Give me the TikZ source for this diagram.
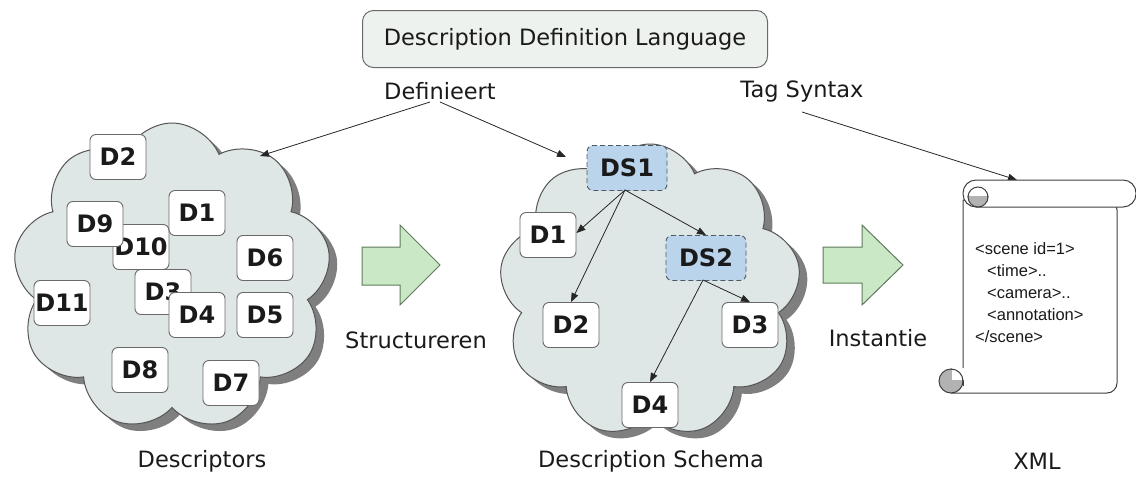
\documentclass[tikz,border=0pt]{standalone}
\usepackage{fontspec}
\setmainfont{DejaVu Sans}
\newfontfamily\xmlfont{Liberation Sans}
\usetikzlibrary{shapes.symbols,arrows.meta}
\definecolor{cloudfill}{HTML}{DEE7E5}
\definecolor{cloudline}{HTML}{555555}
\definecolor{shadowc}{HTML}{7F7F7F}
\definecolor{boxline}{HTML}{6A6A6A}
\definecolor{topfill}{HTML}{EEF2EE}
\definecolor{dsfill}{HTML}{BAD4EC}
\definecolor{dsline}{HTML}{4E5966}
\definecolor{greenfill}{HTML}{CBE8C6}
\definecolor{greenline}{HTML}{5D7A5B}
\definecolor{txt}{HTML}{1A1A1A}
\tikzset{
  cloudbase/.style={cloud, cloud puffs=9, cloud puff arc=135, aspect=1, inner sep=0pt},
  cloudmain/.style={cloudbase, draw=cloudline, line width=1pt, fill=cloudfill},
  cloudshadow/.style={cloudbase, fill=shadowc, draw=none},
  dbox/.style={draw=boxline, line width=0.9pt, fill=white, rounded corners=6pt,
    minimum width=56pt, minimum height=45pt, inner sep=0pt,
    font=\fontsize{24}{28}\selectfont\bfseries, text=txt},
  dsbox/.style={dbox, fill=dsfill, draw=dsline, dashed, dash pattern=on 5pt off 3pt, minimum width=80pt},
  lbl/.style={font=\fontsize{22.5}{26}\selectfont, text=txt, inner sep=0pt},
  conn/.style={draw=black!85, line width=0.8pt, -{Triangle[length=9pt,width=7pt]}},
  bigarrow/.style={draw=greenline, line width=1pt, fill=greenfill, line join=miter},
  scrollline/.style={draw=black!75, line width=1pt},
}
\begin{document}
\begin{tikzpicture}[x=1pt,y=-1pt]
\useasboundingbox (0,0) rectangle (1136,477);
% top box
\node[draw=boxline, line width=1pt, fill=topfill, rounded corners=11pt, minimum width=405pt, minimum height=57pt, lbl] (ddl) at (565,39) {Description Definition Language};
\node[lbl] (def) at (440,91) {Definieert};
\node[lbl] (tag) at (802,91) {Tag Syntax};

% left cloud
\node[cloudshadow, minimum width=318pt, minimum height=308pt, shape border rotate=10] (lcs) at (180,284) {};
\node[cloudmain, minimum width=318pt, minimum height=308pt, shape border rotate=10] (lc) at (172,277) {};
\node[dbox] (a2) at (118,157) {D2};
\node[dbox] (a10) at (141,247) {D10};
\node[dbox] (a9) at (95,224) {D9};
\node[dbox] (a1) at (197,213) {D1};
\node[dbox] (a6) at (265,258) {D6};
\node[dbox] (a11) at (62,303) {D11};
\node[dbox] (a3) at (163,292) {D3};
\node[dbox] (a4) at (197,315) {D4};
\node[dbox] (a5) at (265,315) {D5};
\node[dbox] (a8) at (140,370) {D8};
\node[dbox] (a7) at (231,383) {D7};

% middle cloud
\node[cloudshadow, minimum width=302pt, minimum height=294pt] (mcs) at (658,298) {};
\node[cloudmain, minimum width=302pt, minimum height=294pt] (mc) at (650,291) {};
\node[dsbox] (ds1) at (627,168) {DS1};
\node[dbox] (b1) at (548,235) {D1};
\node[dsbox] (ds2) at (706,258) {DS2};
\node[dbox] (b2) at (571,325) {D2};
\node[dbox] (b3) at (750,325) {D3};
\node[dbox] (b4) at (650,405) {D4};
\coordinate (ds1o) at (625,190);
\coordinate (ds2o) at (703,280);
\draw[conn] (ds1o) -- (b1.east |- 0,233);
\draw[conn] (ds1o) -- (b2.north);
\draw[conn] (ds1o) -- (ds2.north);
\draw[conn] (ds2o) -- (b3.north);
\draw[conn] (ds2o) -- (b4.north);

% Definieert / Tag arrows
\coordinate (defo1) at (430,102);
\coordinate (defo2) at (440,102);
\coordinate (lct) at (260,156);
\coordinate (mct) at (566,157);
\draw[conn] (defo1) -- (lct);
\draw[conn] (defo2) -- (mct);
\coordinate (tago) at (802,112);
\coordinate (scrt) at (1017,180);
\draw[conn] (tago) -- (scrt);

% green arrows
\draw[bigarrow] (362,247) -- (400,247) -- (400,225) -- (440,265) -- (400,305) -- (400,285) -- (362,285) -- cycle;
\draw[bigarrow] (823,247) -- (862,247) -- (862,225) -- (903,265) -- (862,305) -- (862,283) -- (823,283) -- cycle;
\node[lbl] (str) at (416,340) {Structureren};
\node[lbl] (ins) at (878,338) {Instantie};

% scroll
\filldraw[scrollline, fill=white, rounded corners=10pt] (951,393) -- (1117,393) -- (1117,200) [sharp corners] -- (963,200) -- (963,381);
\filldraw[scrollline, fill=white, rounded corners=13pt] (963,180) rectangle (1136,207);
\filldraw[scrollline, fill=black!30] (978,197) circle (10pt);
\fill[white] (968,186) rectangle (990,196);
\draw[scrollline] (968,197) arc[start angle=180, end angle=0, radius=10pt];
\filldraw[scrollline, fill=black!30] (951,381) circle (12pt);
\fill[white] (952,368) rectangle (964,380);
\draw[scrollline] (951,369) arc[start angle=90, end angle=0, radius=12pt];
\draw[scrollline] (963,381) -- (963,386);
\node[font=\xmlfont\fontsize{16.5}{22}\selectfont, text=txt, align=left, anchor=north west, inner sep=0pt] (xml) at (975,242)
 {<scene id=1>\\
 \hspace*{12pt}<time>..\\
 \hspace*{12pt}<camera>..\\
 \hspace*{12pt}<annotation>\\
 </scene>};

% bottom labels
\node[lbl] (l1) at (202,461) {Descriptors};
\node[lbl] (l2) at (651,461) {Description Schema};
\node[lbl] (l3) at (1037,461) {XML};
\end{tikzpicture}
\end{document}
